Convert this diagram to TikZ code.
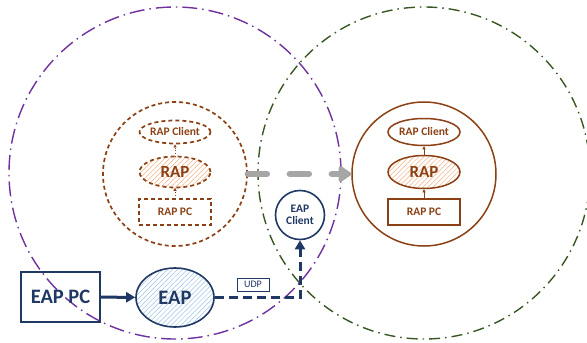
\documentclass[tikz,border=0pt]{standalone}
\usepackage{fontspec}
\setmainfont{Carlito}
\usetikzlibrary{arrows.meta,patterns.meta,shapes.geometric}
\definecolor{cpurple}{RGB}{112,48,160}
\definecolor{cgreen}{RGB}{56,87,35}
\definecolor{cbrown}{RGB}{140,65,20}
\definecolor{chatch}{RGB}{244,177,131}
\definecolor{cnavy}{RGB}{31,56,100}
\definecolor{cblue}{RGB}{157,195,230}
\definecolor{cgrey}{RGB}{166,166,166}
\tikzset{
  zone/.style={line width=1.4pt, dash pattern=on 15pt off 5pt on 1.5pt off 5pt},
  zoneg/.style={line width=1.4pt, dash pattern=on 11pt off 5pt on 1.5pt off 5pt},
  dotb/.style={draw=cbrown, line width=1.7pt, dash pattern=on 4pt off 3pt},
  solb/.style={draw=cbrown, line width=1.5pt},
  txtb/.style={text=cbrown, font=\bfseries},
  ell/.style={ellipse, inner sep=0pt},
  rhatch/.style={preaction={fill=white}, pattern={Lines[angle=45,distance=3.5pt,line width=0.5pt]}, pattern color=chatch},
  bhatch/.style={preaction={fill=white}, pattern={Lines[angle=45,distance=3.5pt,line width=0.5pt]}, pattern color=cblue},
  navy/.style={draw=cnavy, line width=1.6pt, text=cnavy, font=\bfseries},
  smallarr/.style={draw=cbrown, line width=0.6pt, -{Triangle[length=3pt,width=3pt]}},
  smallfont/.style={font=\bfseries\fontsize{11.5}{12}\selectfont},
  rapfont/.style={font=\bfseries\fontsize{17}{18}\selectfont},
}
\begin{document}
\begin{tikzpicture}[x=1pt,y=-1pt]
\useasboundingbox (0,0) rectangle (587,343);
\clip (0,0) rectangle (587,343);
% zones
\draw[zone, cpurple] (175,173) circle [radius=166pt];
\draw[zoneg, cgreen] (424,173) circle [radius=166pt];
% left (dotted) RAP group
\node[dotb, circle, minimum size=144pt, inner sep=0pt] (lbig) at (175,174) {};
\node[dotb, ell, txtb, minimum width=71pt, minimum height=23pt, smallfont] (lrc) at (175,132) {RAP Client};
\node[dotb, ell, txtb, rhatch, minimum width=71pt, minimum height=31pt, rapfont] (lrap) at (175,172) {RAP};
\node[dotb, rectangle, txtb, minimum width=72pt, minimum height=26pt, inner sep=0pt, smallfont] (lrpc) at (175,212) {RAP PC};
\draw[smallarr, dotted] (lrpc.north) -- (lrap.south);
\draw[smallarr, dotted] (lrap.north) -- (lrc.south);
% right (solid) RAP group
\node[solb, circle, fill=white, minimum size=144pt, inner sep=0pt] (rbig) at (424,174) {};
\node[solb, ell, txtb, minimum width=72pt, minimum height=27pt, smallfont] (rrc) at (424,132) {RAP Client};
\node[solb, ell, txtb, rhatch, minimum width=72pt, minimum height=33pt, rapfont] (rrap) at (424,172) {RAP};
\node[solb, rectangle, txtb, minimum width=72pt, minimum height=26pt, inner sep=0pt, smallfont] (rrpc) at (424,212) {RAP PC};
\draw[smallarr] (rrpc.north) -- (rrap.south);
\draw[smallarr] (rrap.north) -- (rrc.south);
% EAP side
\node[navy, circle, fill=white, minimum size=49pt, inner sep=0pt, align=center, smallfont] (eapc) at (300,215) {EAP\\Client};
\node[navy, rectangle, minimum width=79pt, minimum height=50pt, inner sep=0pt, font=\bfseries\fontsize{20.5}{22}\selectfont] (eappc) at (60.5,297) {EAP PC};
\node[navy, ell, bhatch, minimum width=78pt, minimum height=59pt, font=\bfseries\fontsize{20.5}{22}\selectfont] (eap) at (175,297.5) {EAP};
\node[draw=cnavy, line width=0.8pt, text=cnavy, rectangle, minimum width=32pt, minimum height=13pt, inner sep=0pt, font=\fontsize{10}{11}\selectfont] (udp) at (253,284.5) {UDP};
% connectors
\draw[cnavy, line width=3pt, -{Triangle[length=9pt,width=10pt]}] (eappc) -- (eap);
\draw[cnavy, line width=3pt, dash pattern=on 9pt off 5pt, -{Triangle[length=9pt,width=10pt]}] (eap.east) -- (eap.east -| eapc.south) -- (eapc.south);
\draw[cgrey, line width=6.5pt, line cap=round, dash pattern=on 19pt off 23pt, -{Triangle[length=14pt,width=18pt,round]}] (lbig.east) -- (rbig.west);
\end{tikzpicture}
\end{document}
